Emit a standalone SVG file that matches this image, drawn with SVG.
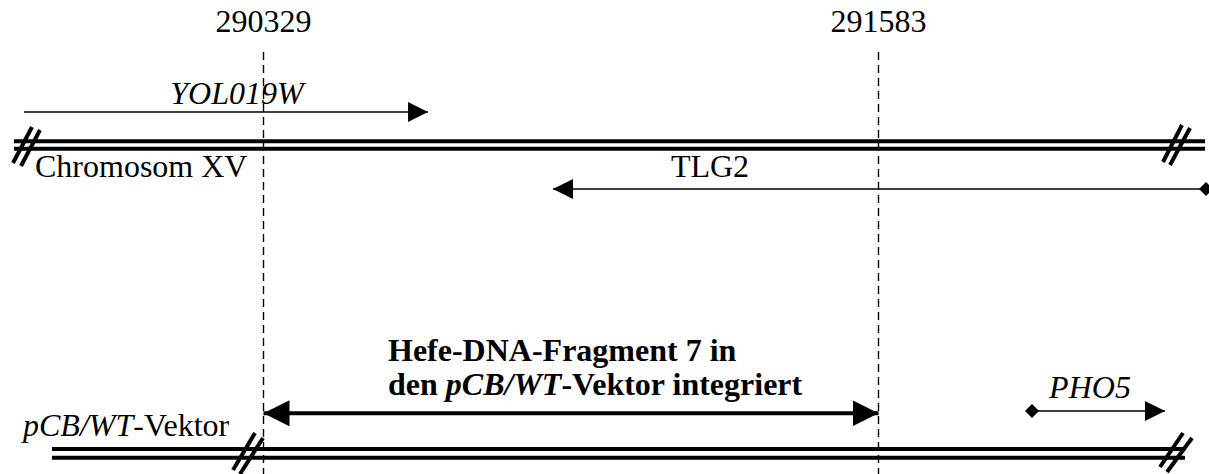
<svg xmlns="http://www.w3.org/2000/svg" width="1209" height="474" viewBox="0 0 1209 474">
<defs>
<style>
text{font-family:"Liberation Serif","Times New Roman",serif;font-size:32px;fill:#000}
.it{font-style:italic}
.b{font-weight:bold}
.dash{stroke:#000;stroke-width:1.4;stroke-dasharray:8,5;fill:none}
.thin{stroke:#000;stroke-width:1.6;fill:none}
.thick{stroke:#000;stroke-width:4;fill:none}
.dna{stroke:#000;stroke-width:4;fill:none}
.brk{stroke:#000;stroke-width:4;fill:none}
</style>
<marker id="ah" viewBox="0 0 20 20" markerWidth="20" markerHeight="20" refX="20" refY="10" orient="auto" markerUnits="userSpaceOnUse">
<path d="M0,0 L20,10 L0,20 Z" fill="#000"/>
</marker>
<marker id="ahB" viewBox="0 0 26 26" markerWidth="26" markerHeight="26" refX="26" refY="13" orient="auto-start-reverse" markerUnits="userSpaceOnUse">
<path d="M0,0 L26,13 L0,26 Z" fill="#000"/>
</marker>
<marker id="dia" viewBox="0 0 14 14" markerWidth="14" markerHeight="14" refX="7" refY="7" orient="auto" markerUnits="userSpaceOnUse">
<path d="M0,7 L7,0 L14,7 L7,14 Z" fill="#000"/>
</marker>
</defs>

<g id="positions">
<text x="263.5" y="32" text-anchor="middle">290329</text>
<text x="878.5" y="32" text-anchor="middle">291583</text>
<line class="dash" x1="263.5" y1="52" x2="263.5" y2="474"/>
<line class="dash" x1="878.5" y1="52" x2="878.5" y2="474"/>
</g>

<g id="chromosome">
<line class="dna" x1="14" y1="141.3" x2="1205" y2="141.3"/>
<line class="dna" x1="14" y1="148.8" x2="1205" y2="148.8"/>
<line class="brk" x1="13" y1="163" x2="32" y2="127"/>
<line class="brk" x1="21" y1="166" x2="40" y2="130"/>
<line class="brk" x1="1163" y1="162" x2="1182" y2="125"/>
<line class="brk" x1="1170" y1="165" x2="1190" y2="128"/>
<text x="35" y="177">Chromosom XV</text>
</g>

<g id="yol019w">
<text class="it" x="237" y="104" text-anchor="middle">YOL019W</text>
</g>

<g id="tlg2">
<text x="710" y="177" text-anchor="middle">TLG2</text>
</g>

<g id="vector">
<line class="dna" x1="52" y1="449" x2="1185" y2="449"/>
<line class="dna" x1="52" y1="457.7" x2="1185" y2="457.7"/>
<line class="brk" x1="233" y1="470" x2="255" y2="433"/>
<line class="brk" x1="240" y1="474" x2="263" y2="438"/>
<line class="brk" x1="1160" y1="467" x2="1183" y2="433"/>
<line class="brk" x1="1167" y1="472" x2="1192" y2="438"/>
<text x="23" y="436"><tspan class="it">pCB/WT</tspan>-Vektor</text>
</g>

<g id="fragment">
<text class="b" x="388" y="361">Hefe-DNA-Fragment 7 in</text>
<text class="b" x="388" y="395">den <tspan class="it">pCB/WT</tspan>-Vektor integriert</text>
</g>

<g id="pho5">
<text class="it" x="1090" y="398" text-anchor="middle">PHO5</text>
</g>

<g id="connectors">
<line class="thin" x1="24" y1="112" x2="428" y2="112" marker-end="url(#ah)"/>
<line class="thin" x1="1206" y1="189" x2="553" y2="189" marker-start="url(#dia)" marker-end="url(#ah)"/>
<line class="thick" x1="263.5" y1="413.3" x2="878.5" y2="413.3" marker-start="url(#ahB)" marker-end="url(#ahB)"/>
<line class="thin" x1="1032" y1="411" x2="1165" y2="411" marker-start="url(#dia)" marker-end="url(#ah)"/>
</g>
</svg>
